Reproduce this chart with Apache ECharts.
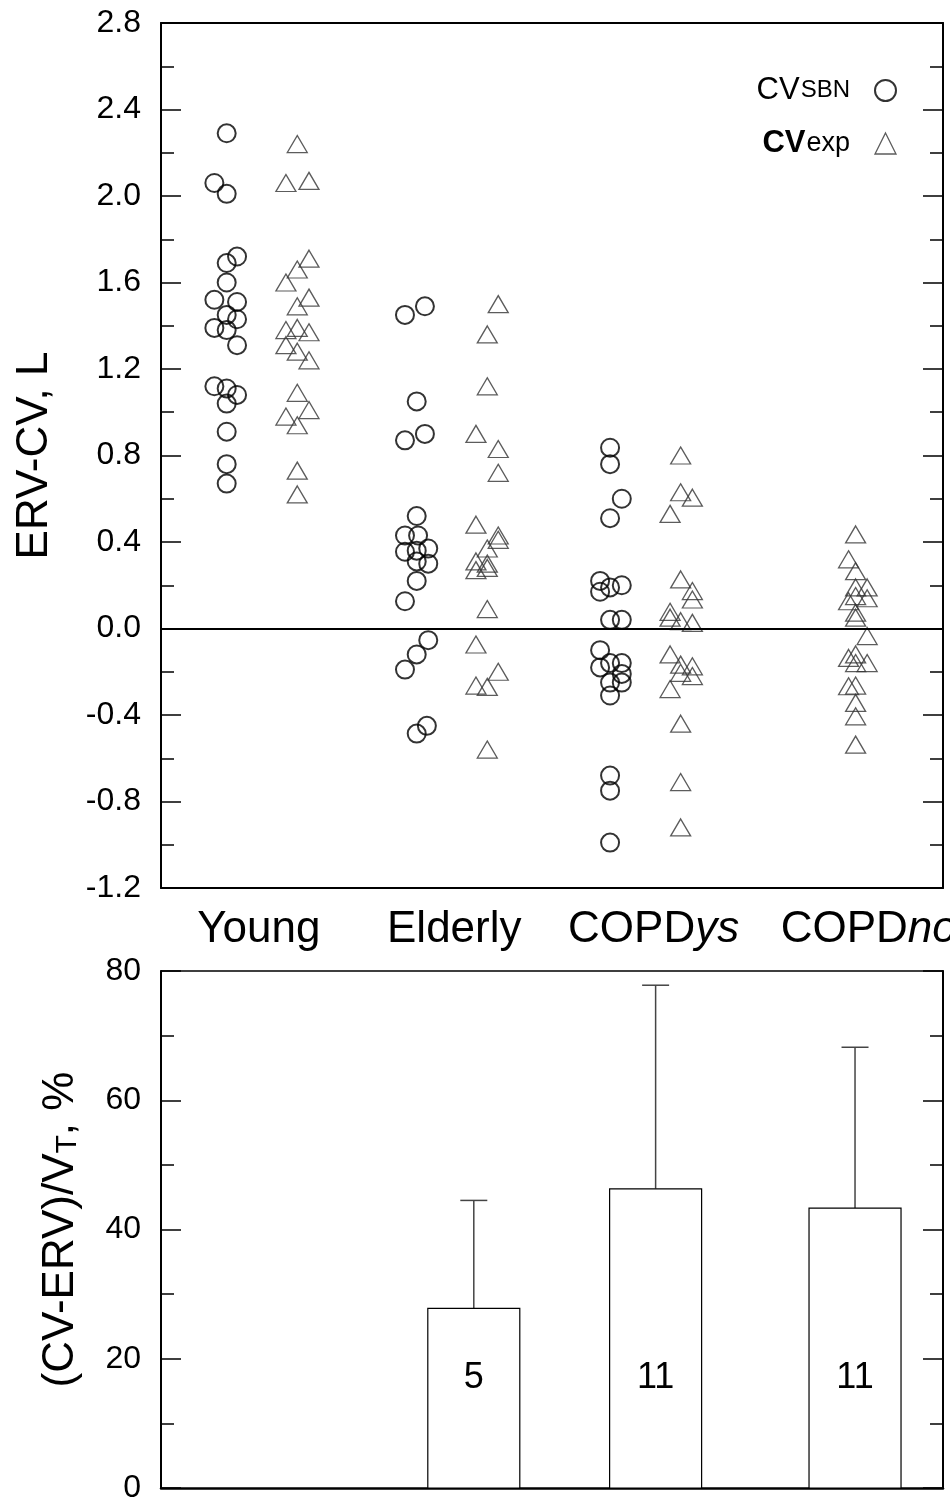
<!DOCTYPE html>
<html>
<head>
<meta charset="utf-8">
<script src="https://cdn.jsdelivr.net/npm/echarts@6/dist/echarts.min.js"></script>
<style>
html,body{margin:0;padding:0;background:#fff;}
#chart{width:950px;height:1504px;}
</style>
</head>
<body>
<div id="chart"></div>
<script>
// ---------- data ----------
const categories = ['Young', 'Elderly', 'COPDys', 'COPDno'];
const topTicks = [-1.2, -0.8, -0.4, 0.0, 0.4, 0.8, 1.2, 1.6, 2.0, 2.4, 2.8];
const bottomTicks = [0, 20, 40, 60, 80];

// [x jitter position (group units), ERV-CV in L]
const youngSBN = [[0.336,2.29],[0.273,2.06],[0.336,2.01],[0.389,1.72],[0.336,1.69],[0.336,1.60],[0.273,1.52],[0.389,1.51],[0.336,1.45],[0.389,1.43],[0.273,1.39],[0.336,1.38],[0.389,1.31],[0.273,1.12],[0.336,1.11],[0.389,1.08],[0.336,1.04],[0.336,0.91],[0.336,0.76],[0.336,0.67]];
const youngExp = [[0.697,2.24],[0.639,2.06],[0.757,2.07],[0.757,1.71],[0.697,1.66],[0.639,1.60],[0.757,1.53],[0.697,1.49],[0.639,1.38],[0.697,1.39],[0.757,1.37],[0.639,1.31],[0.697,1.28],[0.757,1.24],[0.697,1.09],[0.757,1.01],[0.639,0.98],[0.697,0.94],[0.697,0.73],[0.697,0.62]];
const elderlySBN = [[1.248,1.45],[1.35,1.49],[1.308,1.05],[1.248,0.87],[1.35,0.90],[1.308,0.52],[1.248,0.43],[1.315,0.43],[1.248,0.355],[1.308,0.36],[1.367,0.37],[1.308,0.31],[1.367,0.30],[1.308,0.22],[1.248,0.126],[1.367,-0.054],[1.308,-0.12],[1.248,-0.19],[1.36,-0.45],[1.308,-0.486]];
const elderlyExp = [[1.725,1.50],[1.669,1.36],[1.669,1.12],[1.611,0.90],[1.725,0.83],[1.725,0.72],[1.611,0.48],[1.725,0.43],[1.725,0.41],[1.669,0.37],[1.611,0.31],[1.611,0.27],[1.669,0.30],[1.669,0.28],[1.669,0.09],[1.611,-0.074],[1.725,-0.20],[1.611,-0.264],[1.669,-0.27],[1.669,-0.56]];
const copdysSBN = [[2.297,0.836],[2.297,0.76],[2.357,0.60],[2.297,0.51],[2.246,0.22],[2.357,0.20],[2.246,0.17],[2.297,0.19],[2.297,0.04],[2.357,0.04],[2.246,-0.10],[2.297,-0.16],[2.357,-0.16],[2.246,-0.18],[2.357,-0.21],[2.297,-0.25],[2.357,-0.25],[2.297,-0.31],[2.297,-0.68],[2.297,-0.75],[2.297,-0.99]];
const copdysExp = [[2.658,0.80],[2.658,0.63],[2.718,0.605],[2.604,0.53],[2.658,0.227],[2.718,0.173],[2.718,0.134],[2.604,0.077],[2.604,0.05],[2.658,0.034],[2.718,0.026],[2.604,-0.12],[2.658,-0.167],[2.718,-0.175],[2.658,-0.205],[2.718,-0.22],[2.604,-0.28],[2.658,-0.44],[2.658,-0.71],[2.658,-0.92]];
const copdnoExp = [[3.553,0.435],[3.517,0.32],[3.553,0.265],[3.612,0.19],[3.553,0.19],[3.553,0.15],[3.612,0.14],[3.517,0.126],[3.553,0.073],[3.553,0.05],[3.612,-0.035],[3.517,-0.136],[3.553,-0.12],[3.553,-0.16],[3.612,-0.16],[3.517,-0.267],[3.553,-0.264],[3.553,-0.344],[3.553,-0.406],[3.553,-0.537]];

// bottom panel: (CV-ERV)/VT, %
const barX = [1.6, 2.53, 3.55];
const barMean = [27.8, 46.3, 43.3];
const barSD = [16.7, 31.5, 24.9];
const barN = [5, 11, 11];

// ---------- chart ----------
const FONT = '"Liberation Sans", Arial, Helvetica, sans-serif';
const chart = echarts.init(document.getElementById('chart'), null, {renderer: 'canvas'});

function frameLine(w) { return {show: true, onZero: false, lineStyle: {color: '#000', width: w}}; }
const tickStyle = {color: '#000', width: 1.5};

function yAxisPair(grid, min, max, interval, fmt, name, nameGap, nameRich) {
  return [
    {
      type: 'value', gridIndex: grid, position: 'left', min: min, max: max, interval: interval,
      axisLine: frameLine(2),
      axisTick: {show: true, inside: true, length: 20, lineStyle: tickStyle},
      minorTick: {show: true, splitNumber: 2, length: 13, lineStyle: tickStyle},
      splitLine: {show: false},
      axisLabel: {show: true, margin: 20, fontSize: 32, color: '#000', fontFamily: FONT, formatter: fmt},
      name: name, nameLocation: 'middle', nameGap: nameGap,
      nameTextStyle: {fontSize: 44, color: '#000', fontFamily: FONT, rich: nameRich}
    },
    {
      type: 'value', gridIndex: grid, position: 'right', min: min, max: max, interval: interval,
      axisLine: frameLine(2),
      axisTick: {show: true, inside: true, length: 20, lineStyle: tickStyle},
      minorTick: {show: true, splitNumber: 2, length: 13, lineStyle: tickStyle},
      splitLine: {show: false},
      axisLabel: {show: false}
    }
  ];
}

const option = {
  animation: false,
  backgroundColor: '#fff',
  grid: [
    {left: 161, top: 23, width: 782, height: 865, containLabel: false, outerBoundsMode: 'none'},
    {left: 161, top: 971, width: 782, height: 517, containLabel: false, outerBoundsMode: 'none'}
  ],
  legend: {
    orient: 'vertical', right: 48, top: 70, align: 'right',
    itemWidth: 21, itemHeight: 21, itemGap: 22, selectedMode: false,
    data: [
      {name: 'CVSBN', icon: 'circle', itemStyle: {color: 'rgba(0,0,0,0)', borderColor: '#000', borderWidth: 2}},
      {name: 'CVexp', icon: 'triangle', itemStyle: {color: 'rgba(0,0,0,0)', borderColor: '#333', borderWidth: 1.3}}
    ],
    formatter: function (name) {
      return name === 'CVSBN' ? '{cv|CV}{sbn|SBN}' : '{cvb|CV}{exp|exp}';
    },
    textStyle: {
      color: '#000', fontFamily: FONT,
      rich: {
        cv: {fontSize: 31, fontFamily: FONT, color: '#000', lineHeight: 35},
        sbn: {fontSize: 24, fontFamily: FONT, color: '#000', padding: [0, 20, 0, 1], lineHeight: 35},
        cvb: {fontSize: 31, fontFamily: FONT, color: '#000', fontWeight: 'bold', lineHeight: 35},
        exp: {fontSize: 27, fontFamily: FONT, color: '#000', padding: [0, 20, 0, 1], lineHeight: 35}
      }
    }
  },
  xAxis: [
    {
      type: 'value', gridIndex: 0, position: 'bottom', min: 0, max: 4,
      axisLine: frameLine(2), axisTick: {show: false}, splitLine: {show: false},
      axisLabel: {
        show: true, margin: 20, fontSize: 44, color: '#000', fontFamily: FONT,
        customValues: [0.5, 1.5, 2.52, 3.62],
        formatter: function (v) {
          const i = Math.round(v - 0.5);
          const c = categories[i];
          if (c === 'COPDys') return 'COPD{it|ys}';
          if (c === 'COPDno') return 'COPD{it|no}';
          return c;
        },
        rich: {it: {fontSize: 44, fontStyle: 'italic', fontFamily: FONT, color: '#000'}}
      }
    },
    {
      type: 'value', gridIndex: 0, position: 'top', min: 0, max: 4,
      axisLine: frameLine(2), axisTick: {show: false}, axisLabel: {show: false}, splitLine: {show: false}
    },
    {
      type: 'value', gridIndex: 1, position: 'bottom', min: 0, max: 4,
      axisLine: frameLine(2.5), axisTick: {show: false},
      axisLabel: {show: false}, splitLine: {show: false}
    },
    {
      type: 'value', gridIndex: 1, position: 'top', min: 0, max: 4,
      axisLine: frameLine(1.5), axisTick: {show: false},
      axisLabel: {show: false}, splitLine: {show: false}
    }
  ],
  yAxis: [].concat(
    yAxisPair(0, topTicks[0], topTicks[topTicks.length - 1], 0.4,
      function (v) { return v.toFixed(1); }, 'ERV-CV, L', 104, {}),
    yAxisPair(1, bottomTicks[0], bottomTicks[bottomTicks.length - 1], 20,
      function (v) { return String(v); }, '(CV-ERV)/V{sub|T}, %', 78,
      {sub: {fontSize: 30, fontFamily: FONT, color: '#000', verticalAlign: 'bottom', padding: [14, 0, 0, 0]}})
  ),
  series: [
    {
      name: 'CVSBN', type: 'scatter', xAxisIndex: 0, yAxisIndex: 0,
      symbol: 'circle', symbolSize: 18,
      itemStyle: {color: 'rgba(0,0,0,0)', borderColor: '#000', borderWidth: 2},
      data: [].concat(youngSBN, elderlySBN, copdysSBN),
      z: 3,
      markLine: {
        silent: true, symbol: ['none', 'none'], label: {show: false},
        lineStyle: {color: '#000', width: 1.8, type: 'solid'},
        data: [[{coord: [0, 0]}, {coord: [4, 0]}]]
      }
    },
    {
      name: 'CVexp', type: 'scatter', xAxisIndex: 0, yAxisIndex: 0,
      symbol: 'triangle', symbolSize: [20, 17],
      itemStyle: {color: 'rgba(0,0,0,0)', borderColor: '#333', borderWidth: 1.3},
      data: [].concat(youngExp, elderlyExp, copdysExp, copdnoExp),
      z: 3
    },
    {
      name: 'ratio', type: 'custom', xAxisIndex: 2, yAxisIndex: 2,
      data: barX.map(function (x, i) { return [x, barMean[i], barSD[i], barN[i]]; }),
      renderItem: function (params, api) {
        const x = api.value(0), m = api.value(1), sd = api.value(2), n = api.value(3);
        const base = api.coord([x, 0]);
        const top = api.coord([x, m]);
        const errTop = api.coord([x, m + sd]);
        const lab = api.coord([x, 17]);
        const w = 92, cap = 13.5;
        return {
          type: 'group',
          children: [
            {type: 'line', shape: {x1: top[0], y1: top[1], x2: errTop[0], y2: errTop[1]}, style: {stroke: '#444', lineWidth: 1.5}},
            {type: 'line', shape: {x1: errTop[0] - cap, y1: errTop[1], x2: errTop[0] + cap, y2: errTop[1]}, style: {stroke: '#444', lineWidth: 1.5}},
            {type: 'rect', shape: {x: base[0] - w / 2, y: top[1], width: w, height: base[1] - top[1]}, style: {fill: '#fff', stroke: '#000', lineWidth: 1.2}},
            {type: 'text', x: base[0], y: lab[1], style: {text: String(n), fill: '#000', font: '36px ' + FONT, align: 'center', verticalAlign: 'middle'}}
          ]
        };
      }
    }
  ]
};
chart.setOption(option);
</script>
</body>
</html>
